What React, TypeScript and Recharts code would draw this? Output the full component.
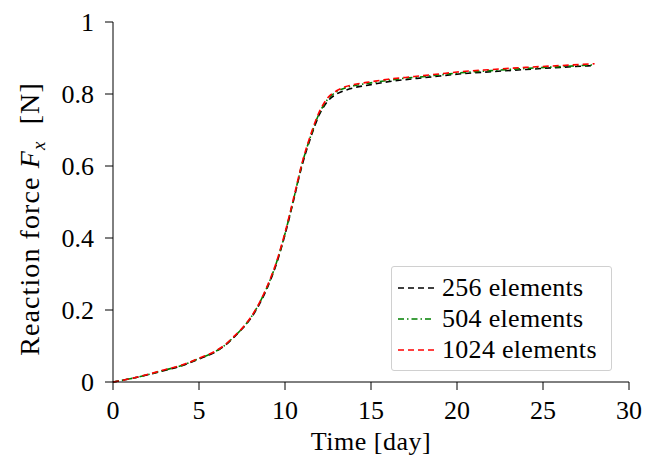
import React from "react";
import { LineChart, Line, XAxis, YAxis, Legend } from "recharts";

const times = [0, 1, 2, 3, 4, 5, 6, 6.5, 7, 7.5, 8, 8.5, 9, 9.5, 10, 10.5, 11, 11.5, 12, 12.5, 13, 13.5, 14, 15, 16, 17, 18, 19, 20, 22, 24, 26, 28];
const force256 = [0, 0.009, 0.02, 0.032, 0.045, 0.064, 0.085, 0.101, 0.123, 0.147, 0.176, 0.215, 0.265, 0.328, 0.409, 0.505, 0.603, 0.68, 0.743, 0.781, 0.8, 0.81, 0.817, 0.826, 0.834, 0.84, 0.845, 0.85, 0.855, 0.862, 0.868, 0.874, 0.879];
const force504 = [0, 0.009, 0.02, 0.033, 0.046, 0.065, 0.086, 0.102, 0.124, 0.148, 0.178, 0.218, 0.268, 0.331, 0.412, 0.508, 0.607, 0.684, 0.747, 0.786, 0.806, 0.817, 0.823, 0.831, 0.838, 0.844, 0.848, 0.853, 0.858, 0.865, 0.871, 0.876, 0.881];
const force1024 = [0, 0.009, 0.021, 0.034, 0.047, 0.066, 0.087, 0.103, 0.125, 0.149, 0.179, 0.219, 0.27, 0.333, 0.415, 0.511, 0.61, 0.688, 0.751, 0.79, 0.809, 0.82, 0.826, 0.834, 0.841, 0.846, 0.851, 0.856, 0.861, 0.868, 0.874, 0.879, 0.884];
const xTicks = [0, 5, 10, 15, 20, 25, 30];
const yTicks = [0, 0.2, 0.4, 0.6, 0.8, 1];

const data = times.map((t, i) => ({
  t,
  a: force256[i],
  b: force504[i],
  c: force1024[i],
}));

const font = "Liberation Serif";
const fs = 26;

const series = [
  { key: "a", name: "256 elements", color: "#000000", dash: "6 4" },
  { key: "b", name: "504 elements", color: "#008000", dash: "6 3 1.5 3" },
  { key: "c", name: "1024 elements", color: "#ff0000", dash: "6 4" },
];

const LegendBox = () => (
  <div
    style={{
      width: 221,
      height: 105,
      border: "1px solid #d0d0d0",
      borderRadius: 3,
      background: "rgba(255,255,255,0.85)",
      fontFamily: font,
      fontSize: 26,
      color: "#000",
      paddingTop: 5,
      boxSizing: "border-box",
    }}
  >
    {series.map((s) => (
      <div key={s.key} style={{ display: "flex", alignItems: "center", height: 31 }}>
        <svg width={45} height={10} style={{ marginLeft: 5 }}>
          <line x1={1} y1={5} x2={37} y2={5} stroke={s.color} strokeWidth={1.5} strokeDasharray={s.dash} />
        </svg>
        <span style={{ lineHeight: "31px", letterSpacing: 0.3 }}>{s.name}</span>
      </div>
    ))}
  </div>
);

const YLabel = () => (
  <text
    x={39}
    y={219}
    transform="rotate(-90 39 219)"
    textAnchor="middle"
    fontFamily={font}
    fontSize={28}
    letterSpacing={1.1}
    fill="#000"
  >
    Reaction force{" "}
    <tspan fontStyle="italic">F</tspan>
    <tspan fontStyle="italic" fontSize={19} dy={6}>x</tspan>
    <tspan dy={-6}>{"\u00a0\u00a0[N]"}</tspan>
  </text>
);

const App = () => {
  return (
    <div style={{ position: "absolute", left: 0, top: 0, width: 653, height: 461, background: "#fff", fontFamily: font }}>
      <LineChart
        width={653}
        height={461}
        data={data}
        margin={{ top: 22, right: 24, left: 53, bottom: 19 }}
        style={{ fontFamily: font }}
      >
        <XAxis
          dataKey="t"
          type="number"
          domain={[0, 30]}
          ticks={xTicks}
          stroke="#000"
          tickSize={8}
          height={60}
          fontFamily={font}
          fontSize={fs}
          tick={{ fill: "#000", fontFamily: font, fontSize: fs, dy: 9 }}
          label={{ value: "Time [day]", position: "insideBottom", offset: -8, fill: "#000", fontFamily: font, fontSize: 26, letterSpacing: 0.5 }}
        />
        <XAxis xAxisId="top" orientation="top" dataKey="t" type="number" domain={[0, 30]} tick={false} tickLine={false} stroke="#000" height={0} />
        <YAxis
          type="number"
          domain={[0, 1]}
          ticks={yTicks}
          stroke="#000"
          tickSize={8}
          width={60}
          fontFamily={font}
          fontSize={fs}
          tickFormatter={(v: number) => (v === 0 ? "0" : v === 1 ? "1" : v.toFixed(1))}
          tick={{ fill: "#000", fontFamily: font, fontSize: fs, dx: -9 }}
        />
        <YAxis yAxisId="right" orientation="right" domain={[0, 1]} tick={false} tickLine={false} stroke="#000" width={0} />
        {series.map((s) => (
          <Line
            key={s.key}
            dataKey={s.key}
            name={s.name}
            type="monotone"
            stroke={s.color}
            strokeWidth={1.6}
            strokeDasharray={s.dash}
            dot={false}
            isAnimationActive={false}
          />
        ))}
        <Legend
          layout="vertical"
          align="center"
          verticalAlign="middle"
          wrapperStyle={{ position: "absolute", left: 391, top: 266, width: 221 }}
          content={() => <LegendBox />}
        />
        <YLabel />
      </LineChart>
    </div>
  );
};

export default App;
